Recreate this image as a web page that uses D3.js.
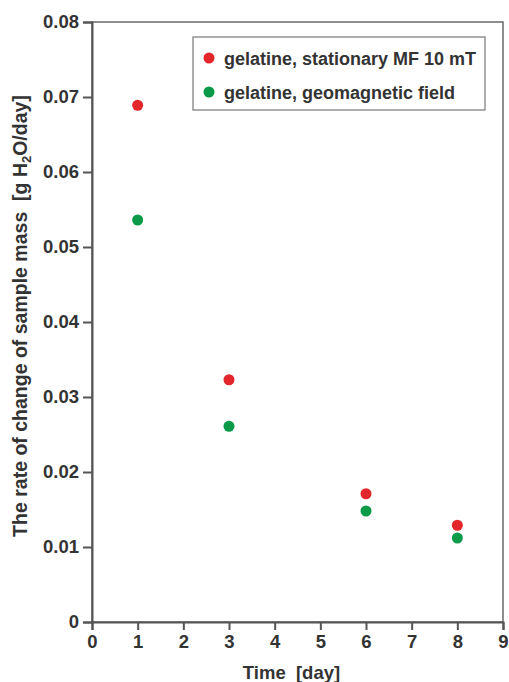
<!DOCTYPE html>
<html>
<head>
  <meta charset='utf-8'>
  <script src="https://d3js.org/d3.v7.min.js"></script>
  <style>
    body { margin: 0; background: #fff; }
    text { font-family: 'Liberation Sans', Arial, sans-serif; font-weight: bold; fill: #333; white-space: pre; }
  </style>
</head>
<body>
<script>
  // data
  var days = [1, 3, 6, 8];
  var stationaryMF = [0.0689, 0.0323, 0.0171, 0.0129];
  var geomagnetic = [0.0536, 0.0261, 0.0148, 0.0112];
  var seriesNames = ['gelatine, stationary MF 10 mT', 'gelatine, geomagnetic field'];
  var seriesColors = ['#e3262b', '#0a9a48'];
  var xTicks = d3.range(0, 10);
  var yTicks = [0, 0.01, 0.02, 0.03, 0.04, 0.05, 0.06, 0.07, 0.08];

  var width = 509, height = 682;
  var margin = {top: 22, right: 6, bottom: 60, left: 92};

  var svg = d3.select('body').append('svg')
    .attr('width', width)
    .attr('height', height);

  var x = d3.scaleLinear().domain([0, 9]).range([margin.left, width - margin.right]);
  var y = d3.scaleLinear().domain([0, 0.08]).range([height - margin.bottom, margin.top]);

  // frame
  svg.append('rect')
    .attr('x', x(0)).attr('y', y(0.08))
    .attr('width', x(9) - x(0)).attr('height', y(0) - y(0.08))
    .attr('fill', 'none').attr('stroke', '#6a6a6a').attr('stroke-width', 1.5);

  // axes
  var xAxis = svg.append('g')
    .attr('transform', 'translate(0,' + y(0) + ')')
    .call(d3.axisBottom(x).tickValues(xTicks).tickSize(8).tickPadding(5).tickFormat(d3.format('d')));
  var yAxis = svg.append('g')
    .attr('transform', 'translate(' + x(0) + ',0)')
    .call(d3.axisLeft(y).tickValues(yTicks).tickSize(9).tickPadding(4)
      .tickFormat(function(d) { return d === 0 ? '0' : d3.format('.2f')(d); }));

  [xAxis, yAxis].forEach(function(a) {
    a.select('.domain').attr('stroke', '#555').attr('stroke-width', 2);
    a.selectAll('.tick line').attr('stroke', '#555').attr('stroke-width', 2);
    a.selectAll('.tick text').style('font-size', '18.5px').attr('fill', '#333');
  });

  // axis titles
  svg.append('text')
    .attr('x', (x(0) + x(9)) / 2 - 6).attr('y', 679)
    .attr('text-anchor', 'middle')
    .style('font-size', '18.5px')
    .text('Time  [day]');

  var yl = svg.append('text')
    .attr('transform', 'translate(27,316) rotate(-90)')
    .attr('text-anchor', 'middle')
    .style('font-size', '19.5px');
  yl.append('tspan').text('The rate of change of sample mass  [g H');
  yl.append('tspan').attr('dy', 4).style('font-size', '13px').text('2');
  yl.append('tspan').attr('dy', -4).text('O/day]');

  // points
  [stationaryMF, geomagnetic].forEach(function(vals, i) {
    svg.append('g').selectAll('circle')
      .data(vals)
      .enter().append('circle')
      .attr('cx', function(d, j) { return x(days[j]); })
      .attr('cy', function(d) { return y(d); })
      .attr('r', 5.5)
      .attr('fill', seriesColors[i]);
  });

  // legend
  var lg = svg.append('g').attr('transform', 'translate(193,37)');
  lg.append('rect')
    .attr('width', 292).attr('height', 73)
    .attr('fill', '#fff').attr('stroke', '#777').attr('stroke-width', 1.2);
  seriesNames.forEach(function(name, i) {
    var cy = 21 + i * 34;
    lg.append('circle').attr('cx', 16).attr('cy', cy).attr('r', 5.5).attr('fill', seriesColors[i]);
    lg.append('text').attr('x', 31).attr('y', cy + 6.5)
      .style('font-size', '18px')
      .text(name);
  });
</script>
</body>
</html>
